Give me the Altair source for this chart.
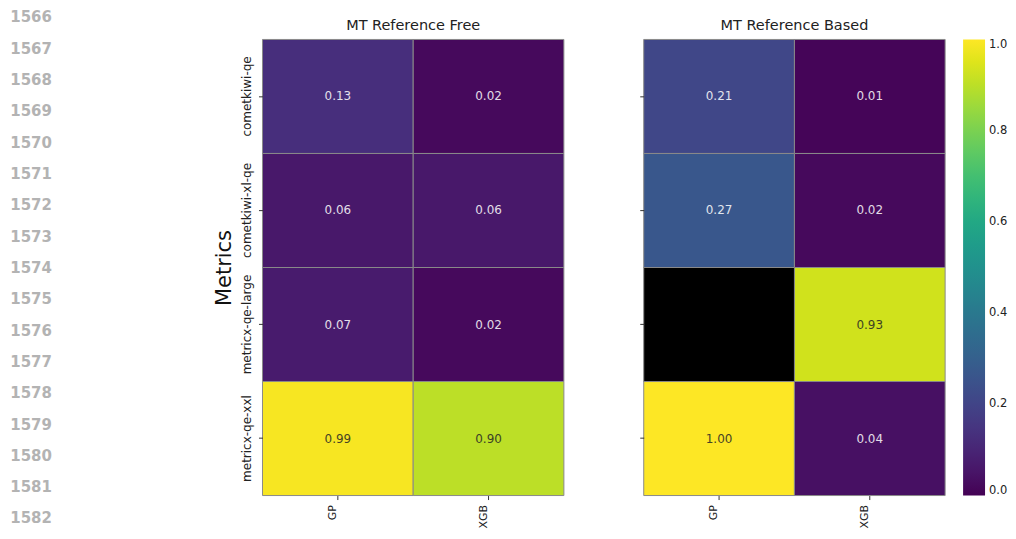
import altair as alt
import pandas as pd

# ---- data -------------------------------------------------------------
metrics = ["cometkiwi-qe", "cometkiwi-xl-qe", "metricx-qe-large", "metricx-qe-xxl"]
models = ["GP", "XGB"]

free_gp = [0.13, 0.06, 0.07, 0.99]
free_xgb = [0.02, 0.06, 0.02, 0.90]
based_gp = [0.21, 0.27, None, 1.00]   # missing cell (drawn black)
based_xgb = [0.01, 0.02, 0.93, 0.04]

panel_titles = ["MT Reference Free", "MT Reference Based"]
colorbar_ticks = [0.0, 0.2, 0.4, 0.6, 0.8, 1.0]
line_numbers = list(range(1566, 1583))

FONT = "DejaVu Sans"


def long_table(gp, xgb):
    rows = []
    for m, a, b in zip(metrics, gp, xgb):
        rows.append({"metric": m, "model": "GP", "value": a})
        rows.append({"metric": m, "model": "XGB", "value": b})
    return pd.DataFrame(rows)


def heatmap(df, title, first):
    x_axis = alt.Axis(title=None, labelAngle=-90, labelAlign="right", labelBaseline="bottom",
                      labelFontSize=11, labelPadding=5, tickSize=4, ticks=True,
                      domain=False, grid=False, labelColor="#222", tickColor="#333")
    if first:
        y_axis = alt.Axis(title="Metrics", titleFontSize=21, titleFontWeight="normal",
                          titleColor="#111", titlePadding=6, labelAngle=-90,
                          labelAlign="center", labelBaseline="bottom", labelFontSize=12,
                          labelPadding=5, tickSize=4, domain=False, grid=False,
                          labelColor="#222", tickColor="#333")
    else:
        y_axis = alt.Axis(title=None, labels=False, ticks=True, tickSize=4, domain=False,
                          grid=False, tickColor="#333")

    base = alt.Chart(df).encode(
        x=alt.X("model:N", sort=models, axis=x_axis,
                scale=alt.Scale(paddingInner=0, paddingOuter=0)),
        y=alt.Y("metric:N", sort=metrics, axis=y_axis,
                scale=alt.Scale(paddingInner=0, paddingOuter=0)),
    )

    if first:
        legend = None
    else:
        legend = alt.Legend(title=None, orient="right", offset=18, gradientLength=457,
                            gradientThickness=22, values=colorbar_ticks, format=".1f",
                            labelFontSize=11.5, labelFont=FONT, labelColor="#222",
                            labelOffset=4, labelBaseline="middle", padding=0,
                            gradientStrokeWidth=0, direction="vertical")

    cells = base.mark_rect(stroke="#8a8a8a", strokeWidth=1).transform_filter(
        "isValid(datum.value)"
    ).encode(
        color=alt.Color("value:Q", scale=alt.Scale(scheme="viridis", domain=[0, 1]),
                        legend=legend)
    )
    missing = base.mark_rect(fill="black", stroke="#8a8a8a", strokeWidth=1).transform_filter(
        "!isValid(datum.value)"
    )
    labels = base.mark_text(font=FONT, fontSize=12, opacity=0.85).transform_filter(
        "isValid(datum.value)"
    ).encode(
        text=alt.Text("value:Q", format=".2f"),
        color=alt.condition("datum.value > 0.5", alt.value("#262626"), alt.value("#ffffff")),
    )

    return alt.layer(cells, missing, labels).properties(
        width=302, height=457,
        title=alt.TitleParams(title, font=FONT, fontSize=14.5, fontWeight="normal",
                              color="#222", baseline="alphabetic", offset=-6, frame="group"),
    )


left = heatmap(long_table(free_gp, free_xgb), panel_titles[0], True)
right = heatmap(long_table(based_gp, based_xgb), panel_titles[1], False)

ln_df = pd.DataFrame({"n": line_numbers, "label": [str(n) for n in line_numbers]})
linenums = alt.Chart(ln_df).mark_text(
    align="right", baseline="middle", font=FONT, fontWeight="bold", fontSize=15,
    color="#b3b3b3"
).encode(
    y=alt.Y("n:Q", axis=None, scale=alt.Scale(domain=[1566, 1582], range=[-22, 480])),
    x=alt.value(0),
    text="label:N",
).properties(width=131, height=457)

chart = alt.hconcat(linenums, left, right, spacing=80, bounds="flush").resolve_scale(
    color="independent"
).properties(
    padding={"left": 2, "top": 2, "right": 0, "bottom": 0}
).configure_view(strokeWidth=0).configure_axis(labelFont=FONT, titleFont=FONT)

chart.save("out.html", embed_options={"renderer": "svg", "actions": False})
